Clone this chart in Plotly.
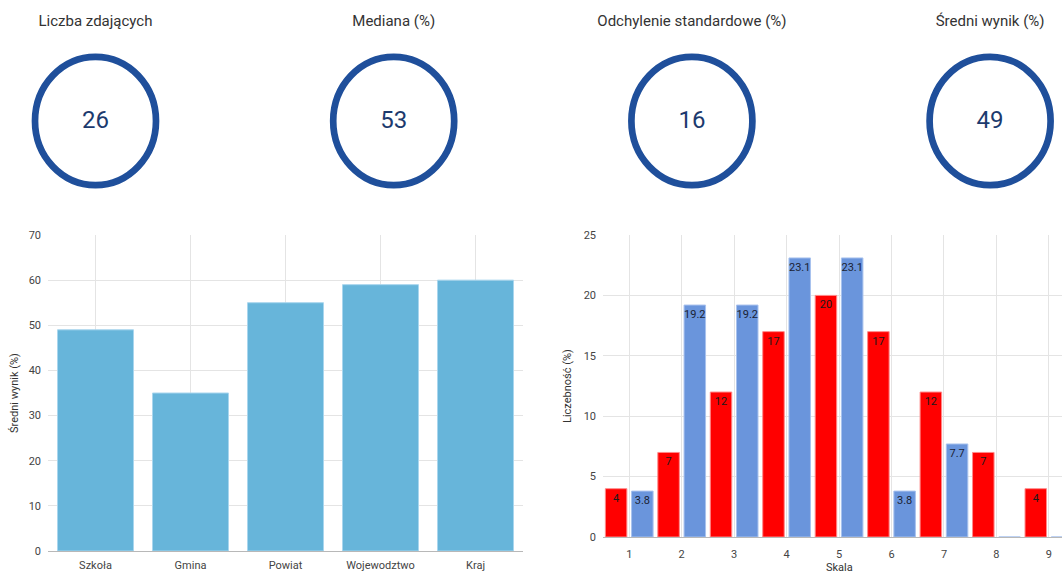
import plotly.graph_objects as go

W, H = 1062, 574

# ---- data ----
kpi_titles = ["Liczba zdających", "Mediana (%)", "Odchylenie standardowe (%)", "Średni wynik (%)"]
kpi_values = [26, 53, 16, 49]

levels = ["Szkoła", "Gmina", "Powiat", "Wojewodztwo", "Kraj"]
level_scores = [49, 35, 55, 59, 60]

scale = [1, 2, 3, 4, 5, 6, 7, 8, 9]
red_values = [4, 7, 12, 17, 20, 17, 12, 7, 4]
blue_values = [3.8, 19.2, 19.2, 23.1, 23.1, 3.8, 7.7, 0, 0]


def fmt(v):
    if v == 0:
        return ""
    return f"{v:g}"


FONT = "Roboto"
GRID = "#e4e4e4"
ZERO = "#b8b8b8"
TICKC = "#444444"

fig = go.Figure()

# left bar chart
fig.add_trace(go.Bar(
    x=levels, y=level_scores, xaxis="x", yaxis="y", width=0.8,
    marker=dict(color="#67b5da", line=dict(color="#a9d6ee", width=1)),
    hoverinfo="x+y", showlegend=False,
))

# right grouped histogram
fig.add_trace(go.Bar(
    x=scale, y=red_values, xaxis="x2", yaxis="y2",
    text=[fmt(v) for v in red_values], textposition="inside", insidetextanchor="end",
    constraintext="none", textangle=0,
    textfont=dict(family=FONT, size=11, color="#1a1a1a"),
    marker=dict(color="#ff0000", line=dict(color="#ff8a8a", width=1)),
    showlegend=False,
))
fig.add_trace(go.Bar(
    x=scale, y=blue_values, xaxis="x2", yaxis="y2",
    text=[fmt(v) for v in blue_values], textposition="inside", insidetextanchor="end",
    constraintext="none", textangle=0,
    textfont=dict(family=FONT, size=11, color="#1a2233"),
    marker=dict(color="#6a95dc", line=dict(color="#a8c2ee", width=1)),
    showlegend=False,
))

# KPI row (hidden axes x3/y3; y3 spans the top 229.6 px)
kpi_idx = list(range(len(kpi_values)))
Y3PX = 229.6
cy = 1 - 121.0 / Y3PX       # ring centre
num_y = 1 - 122.0 / Y3PX    # number centre
title_y = 1 - 22.5 / Y3PX   # title centre
fig.add_trace(go.Scatter(
    x=kpi_idx, y=[num_y] * len(kpi_idx), xaxis="x3", yaxis="y3", mode="text",
    text=[str(v) for v in kpi_values],
    textfont=dict(family=FONT, size=24, color="#1c3a6e"),
    hoverinfo="skip", showlegend=False,
))
fig.add_trace(go.Scatter(
    x=kpi_idx, y=[title_y] * len(kpi_idx), xaxis="x3", yaxis="y3", mode="text",
    text=kpi_titles,
    textfont=dict(family=FONT, size=15, color="#333333"),
    hoverinfo="skip", showlegend=False,
))

shapes = []
hw, hh = 0.2029, 64.15 / Y3PX
for i in kpi_idx:
    shapes.append(dict(
        type="circle", xref="x3", yref="y3",
        x0=i - hw, x1=i + hw, y0=cy - hh, y1=cy + hh,
        line=dict(color="#1f4f9b", width=6.7), fillcolor="rgba(0,0,0,0)",
        layer="below",
    ))

k_center0, k_step = 95.5, 298.2
x3_lo = -k_center0 / k_step
x3_hi = x3_lo + W / k_step

axis_common = dict(
    showgrid=True, gridcolor=GRID, gridwidth=1, ticks="",
    tickfont=dict(family=FONT, size=11, color=TICKC), showline=False,
    fixedrange=True, automargin=False,
)

fig.update_layout(
    width=W, height=H,
    margin=dict(l=0, r=0, t=0, b=0),
    paper_bgcolor="white", plot_bgcolor="white",
    font=dict(family=FONT, color="#333333"),
    barmode="group", bargap=0.0, bargroupgap=0.18,
    showlegend=False,
    xaxis=dict(domain=[48 / W, 523 / W], anchor="y", type="category",
               zeroline=False, ticklabelstandoff=6, **axis_common),
    yaxis=dict(domain=[1 - 551 / H, 1 - 235 / H], anchor="x", range=[0, 70], dtick=10,
               zeroline=True, zerolinecolor=ZERO, zerolinewidth=1,
               ticklabelstandoff=6, **axis_common),
    xaxis2=dict(domain=[603 / W, 1], anchor="y2", range=[0.5, 9.25], dtick=1, tick0=1,
                zeroline=False, ticklabelstandoff=9, **axis_common),
    yaxis2=dict(domain=[1 - 537 / H, 1 - 235 / H], anchor="x2", range=[0, 25], dtick=5,
                zeroline=True, zerolinecolor=ZERO, zerolinewidth=1,
                ticklabelstandoff=6, **axis_common),
    xaxis3=dict(domain=[0, 1], anchor="y3", range=[x3_lo, x3_hi], visible=False,
                fixedrange=True, automargin=False),
    yaxis3=dict(domain=[1 - Y3PX / H, 1.0], anchor="x3", range=[0, 1], visible=False,
                fixedrange=True, automargin=False),
    shapes=shapes,
    annotations=[
        dict(text="Średni wynik (%)", xref="paper", yref="paper",
             x=14 / W, y=1 - 393 / H, textangle=-90, showarrow=False,
             xanchor="center", yanchor="middle",
             font=dict(family=FONT, size=11, color="#333333")),
        dict(text="Liczebność (%)", xref="paper", yref="paper",
             x=567 / W, y=1 - 386 / H, textangle=-90, showarrow=False,
             xanchor="center", yanchor="middle",
             font=dict(family=FONT, size=11, color="#333333")),
        dict(text="Skala", xref="paper", yref="paper",
             x=839 / W, y=1 - 567 / H, showarrow=False,
             xanchor="center", yanchor="middle",
             font=dict(family=FONT, size=11, color="#333333")),
    ],
)

fig.write_html(
    "out.html",
    config={"displayModeBar": False},
    post_script="document.body.style.margin='0';document.body.style.overflow='hidden';",
)
